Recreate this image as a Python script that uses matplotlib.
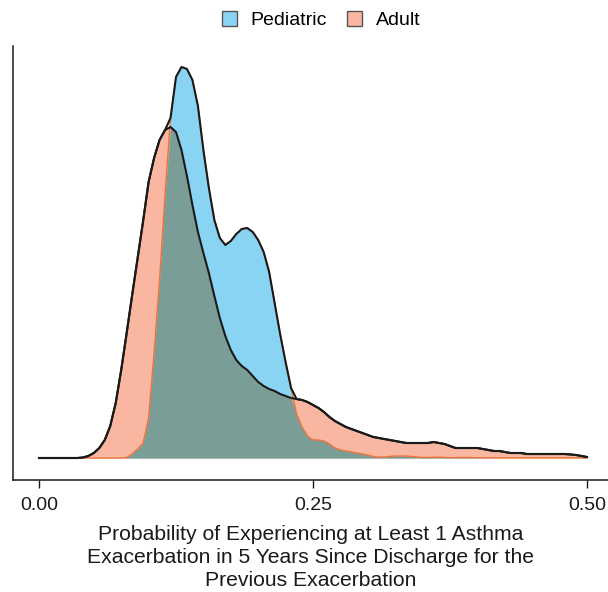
import numpy as np
import matplotlib
matplotlib.use("Agg")
import matplotlib.pyplot as plt
from matplotlib.patches import Patch

plt.rcParams['font.family'] = ['Liberation Sans', 'DejaVu Sans']

# density estimates (arbitrary units, y axis is unlabeled)
x = np.round(np.arange(0, 0.5001, 0.005), 3)

pediatric = [
    0, 0, 0, 0, 0, 0, 0, 0, 0, 0,            # 0.000 - 0.045
    0, 0, 0, 0, 0, 0, 0.5, 4, 9, 15,         # 0.050 - 0.095
    40, 105, 178, 263, 340, 381, 391, 389, 378, 352,   # 0.100 - 0.145
    308, 270, 238, 220, 213, 217, 224, 229, 230, 226,  # 0.150 - 0.195
    218, 206, 186, 155, 124, 96, 70, 44, 31, 22,       # 0.200 - 0.245
    18, 18, 17, 14, 10, 8, 7, 6, 5, 4,                 # 0.250 - 0.295
    3, 1.5, 1, 1, 1.5, 2, 2, 2, 1.5, 1,                # 0.300 - 0.345
    0.5, 0.5, 0.8, 0.8, 0.5, 0.3, 0.3, 0.5, 0.5, 0.3,  # 0.350 - 0.395
    0.3, 0.2, 0.2, 0.2, 0.1, 0.1, 0.1, 0.1, 0.1, 0.1,  # 0.400 - 0.445
    0.1, 0.1, 0.1, 0.1, 0.1, 0.1, 0.1, 0.1, 0.1, 0.1,  # 0.450 - 0.495
    0.1,                                               # 0.500
]

adult = [
    0, 0, 0, 0, 0, 0, 0, 0, 0.5, 2,          # 0.000 - 0.045
    5, 10, 18, 32, 55, 88, 125, 163, 200, 237,         # 0.050 - 0.095
    276, 300, 318, 328, 331, 326, 308, 282, 253, 226,  # 0.100 - 0.145
    205, 185, 162, 140, 122, 108, 98, 92, 88, 82,      # 0.150 - 0.195
    76, 72, 69, 67, 64, 62, 60, 59, 58, 56,            # 0.200 - 0.245
    53, 50, 46, 41, 37, 34, 31, 29, 27, 25,            # 0.250 - 0.295
    23, 21, 20, 19, 18, 17, 16, 15, 15, 15,            # 0.300 - 0.345
    15, 15, 16, 15, 14, 12, 10, 10, 10, 10,            # 0.350 - 0.395
    10, 9, 8, 7, 7, 6, 5, 5, 5, 4,                     # 0.400 - 0.445
    4, 4, 4, 4, 4, 4, 4, 3.5, 3, 2,                    # 0.450 - 0.495
    1,                                                 # 0.500
]

groups = ['Pediatric', 'Adult']
fill_colors = {'Pediatric': '#89D4F3', 'Adult': '#F9B6A0'}
overlap_color = '#7A9D98'
hidden_line = '#E8743C'

ped = np.array(pediatric, dtype=float)
adu = np.array(adult, dtype=float)

fig = plt.figure(figsize=(6.08, 5.92), dpi=100)
ax = fig.add_axes([12.5 / 608, 112 / 592, 1 - 12.5 / 608, 434 / 592])

ax.fill_between(x, 0, ped, color=fill_colors['Pediatric'], lw=0)
ax.fill_between(x, 0, adu, color=fill_colors['Adult'], lw=0)
ax.fill_between(x, 0, np.minimum(ped, adu), color=overlap_color, lw=0)

# pediatric outline shows orange where it sits below the adult curve
ax.plot(x, ped, color=hidden_line, lw=1.0, solid_capstyle='butt')
ax.plot(x, adu, color='#1a1a1a', lw=1.5, solid_joinstyle='round')
ax.plot(x, np.maximum(ped, adu), color='#1a1a1a', lw=1.5, solid_joinstyle='round')

ax.set_xlim((12.5 - 39) / 1096, (608 - 39) / 1096)
ax.set_ylim(-22, 412)

ax.set_xticks([0, 0.25, 0.5])
ax.set_xticklabels(['0.00', '0.25', '0.50'])
ax.set_yticks([])
ax.tick_params(axis='x', length=6, width=1, color='#1a1a1a', labelsize=14,
               labelcolor='#1a1a1a', pad=6)
for side in ['top', 'right']:
    ax.spines[side].set_visible(False)
for side in ['left', 'bottom']:
    ax.spines[side].set_linewidth(1.1)
    ax.spines[side].set_color('#1a1a1a')

ax.set_xlabel('Probability of Experiencing at Least 1 Asthma\n'
              'Exacerbation in 5 Years Since Discharge for the\n'
              'Previous Exacerbation',
              fontsize=15.2, color='#1a1a1a', linespacing=1.28, labelpad=8)

handles = [Patch(facecolor=fill_colors[g], edgecolor='#555555', lw=1.0, label=g)
           for g in groups]
fig.legend(handles=handles, loc='center', bbox_to_anchor=(321 / 608, 1 - 20 / 592),
           ncol=2, frameon=False, fontsize=14, handlelength=0.8, handleheight=0.8,
           handletextpad=0.7, columnspacing=1.0)

fig.savefig('out.png', dpi=100)
